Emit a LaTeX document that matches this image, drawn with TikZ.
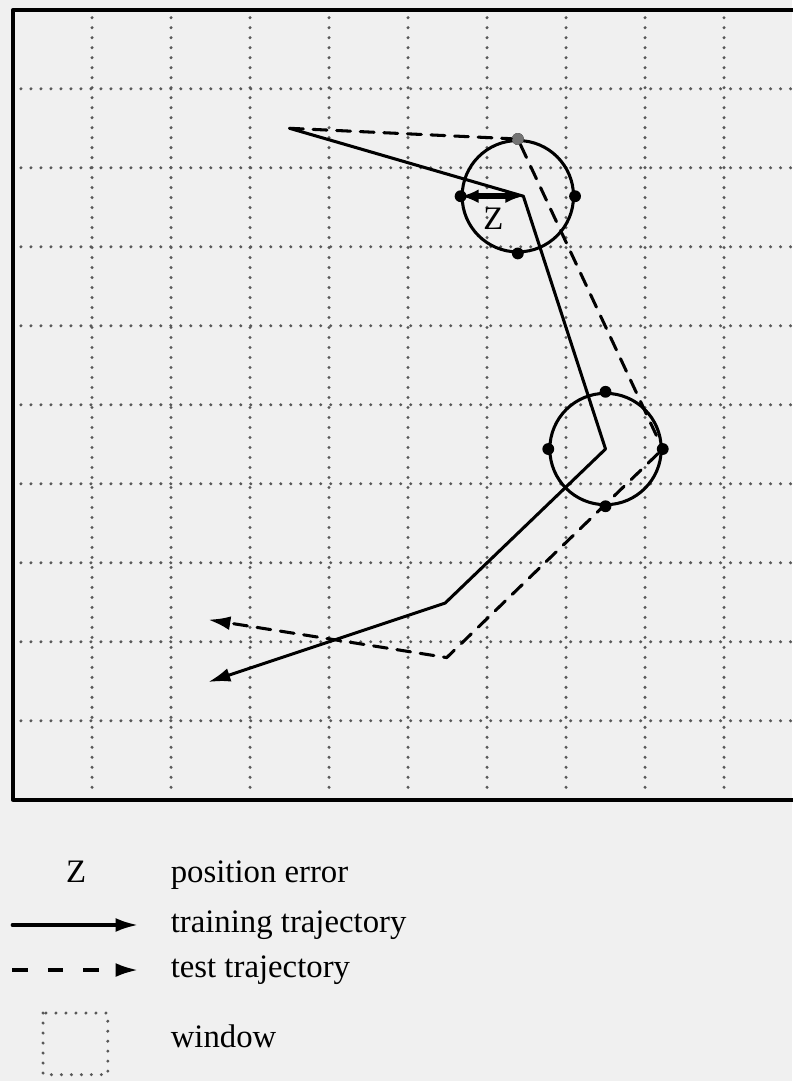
\documentclass[tikz,border=0pt]{standalone}
\usepackage{fontspec}
\setmainfont{Liberation Serif}
\usetikzlibrary{arrows.meta}

\begin{document}
\begin{tikzpicture}[x=1cm, y=-1cm, >={Latex[length=8pt,width=5pt]},
    line cap=round, line join=round,
    gridline/.style={black!65, line width=1.2pt, dash pattern=on 0pt off 3.6pt},
    traj/.style={line width=1.1pt},
    testtraj/.style={line width=1.1pt, dash pattern=on 5pt off 3.5pt},
    ring/.style={circle, draw, line width=1.1pt, minimum size=1.41cm, inner sep=0pt},
    marker/.style={circle, fill, inner sep=0pt, minimum size=0.15cm},
    keytext/.style={font=\fontsize{11.8}{14}\selectfont, anchor=base west, inner sep=0pt}]

  % ---- Page size and paper tone ----
  \useasboundingbox[fill=black!6] (-0.165,-0.124) rectangle (9.861,13.56);

  % Parameters
  \def\N{9}       % number of inner grid lines
  \def\lo{0.1}    % dotted lines stop short of the frame
  \def\hi{9.9}

  % ---- Windows: dotted grid inside the frame ----
  \foreach \k in {1,...,\N}{
    \draw[gridline] (\k,\lo) -- (\k,\hi);
    \draw[gridline] (\lo,\k) -- (\hi,\k);
  }
  \draw[line width=1.4pt] (0,0) rectangle (10,10);

  % ---- Error circles with their four points ----
  \node[ring] (c1) at (6.39,2.36) {};
  \node[ring] (c2) at (7.50,5.56) {};
  \foreach \c in {c1,c2}{
    \foreach \a in {north,south,east,west}
      \node[marker] (\c-\a) at (\c.\a) {};
  }
  \node[marker, fill=black!55] (c1-north) at (c1.north) {};

  % ---- Corner points of the trajectories ----
  \coordinate (start)     at (3.50,1.50);
  \coordinate (v1)        at (6.46,2.36);
  \coordinate (trainbend) at (5.47,7.51);
  \coordinate (trainend)  at (2.47,8.51);
  \coordinate (testbend)  at (5.49,8.20);
  \coordinate (testend)   at (2.47,7.72);

  % training trajectory (solid)
  \draw[traj, ->] (start) -- (v1) -- (c2.center) -- (trainbend) -- (trainend);
  % test trajectory (dashed)
  \draw[testtraj, ->] (start) -- (c1-north) -- (c2-east) -- (testbend) -- (testend);

  % ---- Position error Z ----
  \draw[{Latex[length=6.5pt,width=5pt]}-{Latex[length=6.5pt,width=5pt]}, line width=2pt] (c1-west.center) -- (v1);
  \node[font=\fontsize{11.8}{14}\selectfont, inner sep=0pt] (zlabel) at (6.08,2.64) {Z};

  % ---- Legend ----
  \node[font=\fontsize{11.8}{14}\selectfont, anchor=base, inner sep=0pt] (zkey) at (0.80,11.05) {Z};
  \node[keytext] (errtext) at (1.99,11.05) {position error};

  \coordinate (trainA) at (-0.01,11.585);
  \coordinate (trainB) at (1.58,11.585);
  \draw[traj, ->] (trainA) -- (trainB);
  \node[keytext] (traintext) at (1.99,11.686) {training trajectory};

  \coordinate (testA) at (-0.01,12.155);
  \coordinate (testB) at (1.58,12.155);
  \draw[line width=1.1pt, line cap=butt, dash pattern=on 5.5pt off 7.3pt, ->] (testA) -- (testB);
  \node[keytext] (testtext) at (1.99,12.256) {test trajectory};

  \draw[gridline] (0.38,12.70) rectangle (1.20,13.48);
  \node[keytext] (wintext) at (1.99,13.13) {window};

\end{tikzpicture}
\end{document}
